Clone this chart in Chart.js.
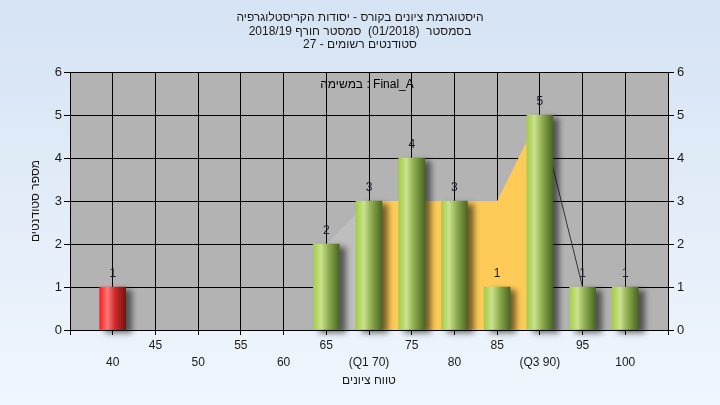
<!DOCTYPE html>
<html>
<head>
<meta charset="utf-8">
<script src="https://cdn.jsdelivr.net/npm/chart.js@4/dist/chart.umd.min.js"></script>
<style>
  body { margin: 0; background: #e4eefa; }
  #wrap { width: 720px; height: 405px; }
</style>
</head>
<body>
<div id="wrap"><canvas id="histChart" width="720" height="405"></canvas></div>
<script>
// data
const grades = [40, 45, 50, 55, 60, 65, 70, 75, 80, 85, 90, 95, 100];
const counts = [1, 0, 0, 0, 0, 2, 3, 4, 3, 1, 5, 1, 1];
const passGrade = 55;

// background polygon (quartile band etc.)
const bandX = [70, 75, 80, 85, 90];
const bandY = [3, 3, 3, 3, 5];
const leadX = [65, 70];
const leadY = [2, 3];
const tailX = [90, 95];
const tailY = [5, 1];

// tick labels, two staggered rows
const upperRow = ['45', '55', '65', '75', '85', '95'];
const upperVals = [45, 55, 65, 75, 85, 95];
const lowerRow = ['40', '50', '60', '(Q1 70)', '80', '(Q3 90)', '100'];
const lowerVals = [40, 50, 60, 70, 80, 90, 100];

const titleLines = [
    'היסטוגרמת ציונים בקורס - יסודות הקריסטלוגרפיה',
    'בסמסטר  (01/2018)  סמסטר חורף 2018/19',
    'סטודנטים רשומים - 27'
];
const innerTitle = 'במשימה : Final_A';

const toPoints = (xs, ys) => xs.map((x, i) => ({ x: x, y: ys[i] }));

Chart.defaults.font.family = "'Liberation Sans', Arial, sans-serif";
Chart.defaults.color = '#1a1a1a';

// background + gray plot area
const backdrop = {
    id: 'backdrop',
    beforeDraw(chart) {
        const ctx = chart.ctx, a = chart.chartArea;
        ctx.save();
        const g = ctx.createLinearGradient(0, 0, 0, chart.height);
        g.addColorStop(0, '#d5e3f4');
        g.addColorStop(1, '#f0f6fd');
        ctx.fillStyle = g;
        ctx.fillRect(0, 0, chart.width, chart.height);
        ctx.fillStyle = '#b3b3b3';
        ctx.fillRect(a.left, a.top, a.right - a.left, a.bottom - a.top);
        ctx.restore();
    },
    afterDraw(chart) {
        const ctx = chart.ctx;
        ctx.save();
        ctx.fillStyle = '#1a1a1a';
        ctx.font = "12px 'Liberation Sans', Arial, sans-serif";
        ctx.textAlign = 'center';
        ctx.textBaseline = 'middle';
        ctx.direction = 'rtl';
        titleLines.forEach((t, i) => ctx.fillText(t, 360, 18 + i * 13.5));
        ctx.direction = 'ltr';
        ctx.fillStyle = '#000';
        ctx.fillText(innerTitle, 367, 85);
        ctx.restore();
    }
};

// shadow under the bars and count labels on top
const barDecor = {
    id: 'barDecor',
    beforeDatasetDraw(chart, args) {
        if (args.index !== 0) return;
        const ctx = chart.ctx;
        ctx.save();
        ctx.shadowColor = 'rgba(0,0,0,0.55)';
        ctx.shadowBlur = 6;
        ctx.shadowOffsetX = 6;
        ctx.shadowOffsetY = 3;
    },
    afterDatasetDraw(chart, args) {
        if (args.index !== 0) return;
        chart.ctx.restore();
        const ctx = chart.ctx;
        const meta = chart.getDatasetMeta(0);
        ctx.save();
        ctx.fillStyle = '#1a1a2a';
        ctx.font = "12px 'Liberation Sans', Arial, sans-serif";
        ctx.textAlign = 'center';
        ctx.textBaseline = 'middle';
        meta.data.forEach((bar, i) => {
            if (counts[i] > 0) ctx.fillText(String(counts[i]), bar.x, bar.y - 13);
        });
        ctx.restore();
    }
};

function barFill(context) {
    const chart = context.chart;
    if (!chart.chartArea || !context.raw) return '#9cc24a';
    const x = chart.scales.x.getPixelForValue(context.raw.x);
    const g = chart.ctx.createLinearGradient(x - 13, 0, x + 13, 0);
    if (context.raw.x < passGrade) {
        g.addColorStop(0, '#ff2020');
        g.addColorStop(0.3, '#ff7878');
        g.addColorStop(0.6, '#cc2828');
        g.addColorStop(1, '#7a1212');
    } else {
        g.addColorStop(0, '#a6cc48');
        g.addColorStop(0.3, '#c9e28e');
        g.addColorStop(0.6, '#8cab4c');
        g.addColorStop(1, '#4a6624');
    }
    return g;
}

new Chart(document.getElementById('histChart'), {
    type: 'bar',
    data: {
        datasets: [{
            type: 'bar',
            // empty grades get no bar at all (no shadow stub)
            data: grades.map((g, i) => ({ x: g, y: counts[i] > 0 ? counts[i] : null })),
            backgroundColor: barFill,
            borderWidth: 0,
            barThickness: 26,
            clip: false,
            order: 0
        }, {
            type: 'line',
            data: toPoints(bandX, bandY),
            backgroundColor: '#ffcb58',
            borderWidth: 0,
            pointRadius: 0,
            fill: 'origin',
            order: 1
        }, {
            type: 'line',
            data: toPoints(leadX, leadY),
            backgroundColor: '#bebebe',
            borderWidth: 0,
            pointRadius: 0,
            fill: 'origin',
            order: 1
        }, {
            type: 'line',
            data: toPoints(tailX, tailY),
            borderColor: '#333',
            borderWidth: 1,
            pointRadius: 0,
            fill: false,
            order: 1
        }]
    },
    options: {
        responsive: false,
        animation: false,
        layout: { padding: { top: 72, left: 0, right: 0, bottom: 0 } },
        plugins: {
            legend: { display: false },
            tooltip: { enabled: false }
        },
        scales: {
            x: {
                type: 'linear',
                min: 35,
                max: 105,
                offset: false,
                afterFit: s => { s.height = 75; },
                grid: { offset: false, color: '#000', tickLength: 5, tickColor: '#000' },
                border: { color: '#000' },
                ticks: {
                    stepSize: 5,
                    autoSkip: false,
                    maxRotation: 0,
                    minRotation: 0,
                    padding: 3,
                    color: '#1a1a1a',
                    font: { size: 12, lineHeight: 1.35 },
                    callback: (v) => {
                        const u = upperVals.indexOf(v);
                        if (u >= 0) return [upperRow[u], ''];
                        const l = lowerVals.indexOf(v);
                        if (l >= 0) return ['', lowerRow[l]];
                        return '';
                    }
                },
                title: {
                    display: true,
                    text: 'טווח ציונים',
                    color: '#1a1a1a',
                    font: { size: 12 },
                    padding: { top: 4, bottom: 17 }
                }
            },
            y: {
                position: 'left',
                min: 0,
                max: 6,
                afterFit: s => { s.width = 70; },
                grid: { color: '#000', tickLength: 6, tickColor: '#000' },
                border: { color: '#000' },
                ticks: { stepSize: 1, padding: 2, color: '#1a1a1a', font: { size: 13 } },
                title: {
                    display: true,
                    text: 'מספר סטודנטים',
                    color: '#1a1a1a',
                    font: { size: 12 },
                    padding: { top: 28, bottom: 0 }
                }
            },
            y2: {
                position: 'right',
                min: 0,
                max: 6,
                afterFit: s => { s.width = 52; },
                grid: { drawOnChartArea: false, tickLength: 6, tickColor: '#000' },
                border: { color: '#000' },
                ticks: { stepSize: 1, padding: 3, color: '#1a1a1a', font: { size: 13 } }
            }
        }
    },
    plugins: [backdrop, barDecor]
});
</script>
</body>
</html>
